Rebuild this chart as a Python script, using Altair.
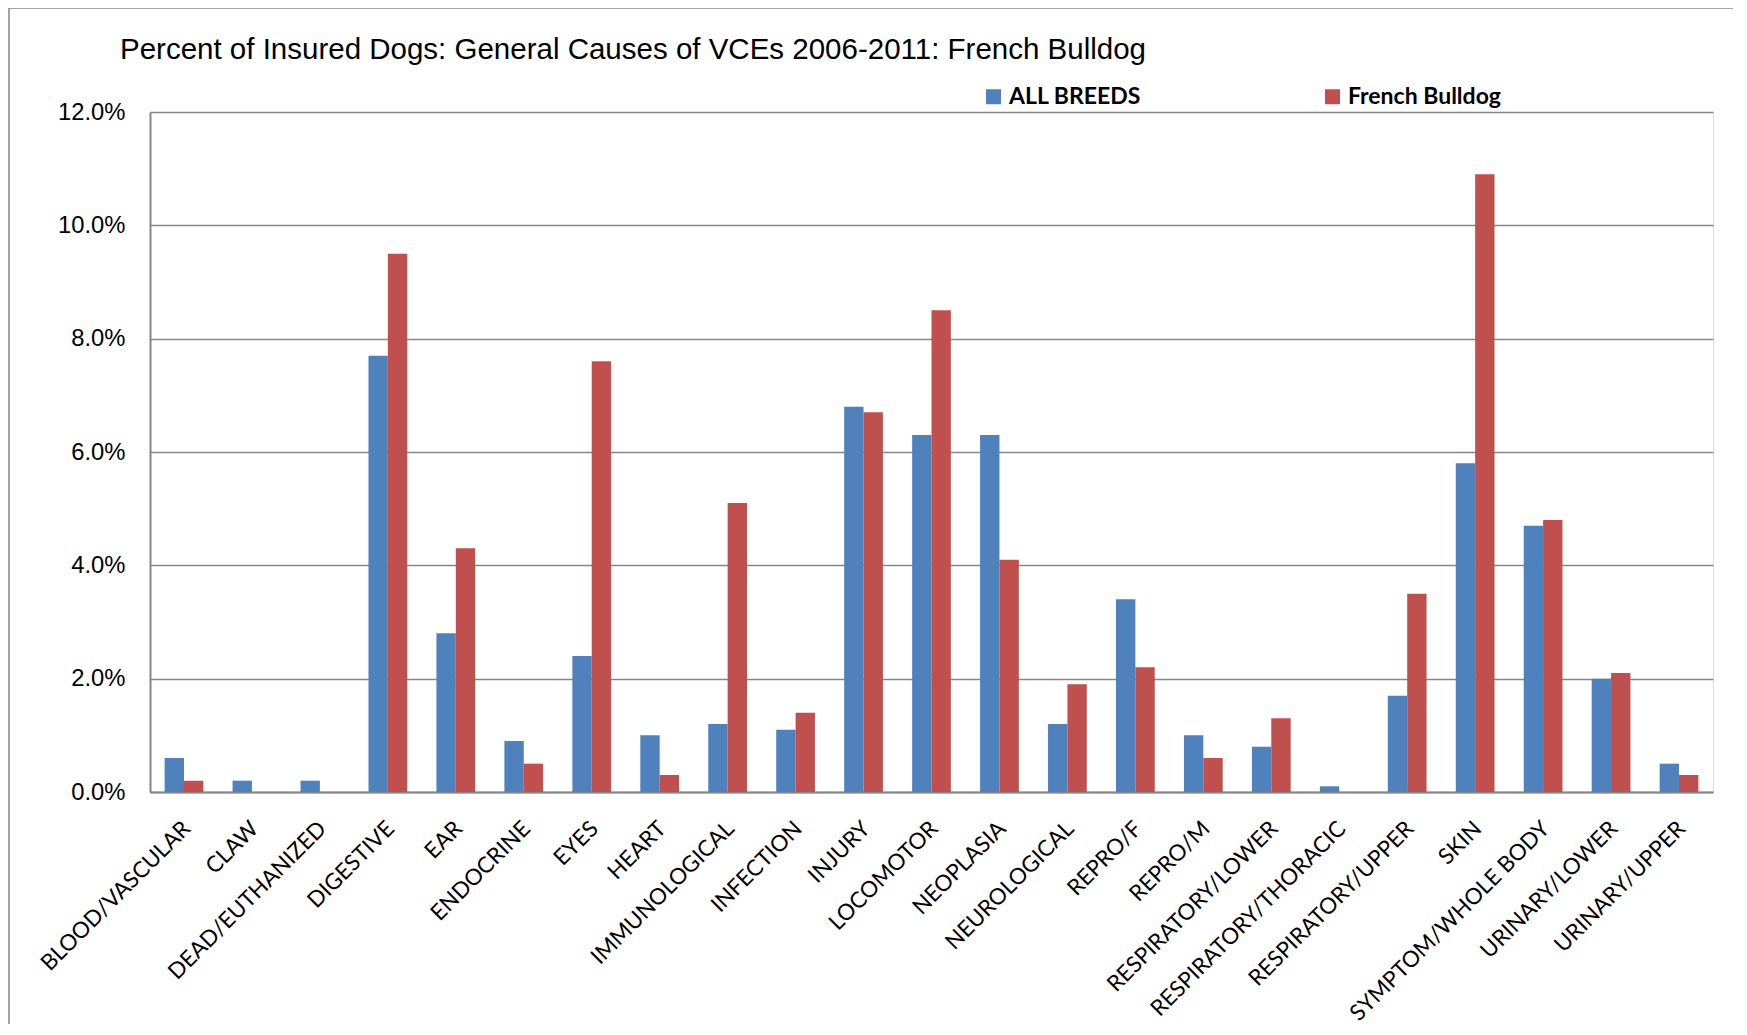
import altair as alt
import pandas as pd

categories = ["BLOOD/VASCULAR", "CLAW", "DEAD/EUTHANIZED", "DIGESTIVE", "EAR", "ENDOCRINE",
              "EYES", "HEART", "IMMUNOLOGICAL", "INFECTION", "INJURY", "LOCOMOTOR",
              "NEOPLASIA", "NEUROLOGICAL", "REPRO/F", "REPRO/M", "RESPIRATORY/LOWER",
              "RESPIRATORY/THORACIC", "RESPIRATORY/UPPER", "SKIN", "SYMPTOM/WHOLE BODY",
              "URINARY/LOWER", "URINARY/UPPER"]
all_breeds = [0.6, 0.2, 0.2, 7.7, 2.8, 0.9, 2.4, 1.0, 1.2, 1.1, 6.8, 6.3,
              6.3, 1.2, 3.4, 1.0, 0.8, 0.1, 1.7, 5.8, 4.7, 2.0, 0.5]
french_bulldog = [0.2, 0.0, 0.0, 9.5, 4.3, 0.5, 7.6, 0.3, 5.1, 1.4, 6.7, 8.5,
                  4.1, 1.9, 2.2, 0.6, 1.3, 0.0, 3.5, 10.9, 4.8, 2.1, 0.3]
series_names = ["ALL BREEDS", "French Bulldog"]
series_colors = ["#4F81BD", "#C0504D"]
y_ticks = [0, 2, 4, 6, 8, 10, 12]

rows = []
for c, a, f in zip(categories, all_breeds, french_bulldog):
    rows.append({"category": c, "series": series_names[0], "value": a})
    rows.append({"category": c, "series": series_names[1], "value": f})
df = pd.DataFrame(rows)

W, H = 1563, 680
GRAY = "#868686"

frame = alt.Chart(pd.DataFrame({"f": [0]})).mark_rect(
    fill="white", fillOpacity=0, stroke=GRAY, strokeWidth=1.5
).encode(
    x=alt.value(-141), x2=alt.value(W + 200),
    y=alt.value(-104), y2=alt.value(H + 400)
)

bars = alt.Chart(df).mark_bar().encode(
    x=alt.X("category:N", sort=categories,
            scale=alt.Scale(paddingInner=0.43, paddingOuter=0.215),
            axis=alt.Axis(title=None, labelAngle=315, labelAlign="right",
                          labelBaseline="top", labelFont="Lato",
                          labelFontSize=22.3, labelColor="black", labelLimit=400,
                          labelPadding=25, labelOffset=-5, ticks=False,
                          domainColor=GRAY, domainWidth=2)),
    xOffset=alt.XOffset("series:N", sort=series_names,
                        scale=alt.Scale(paddingInner=0, paddingOuter=0)),
    y=alt.Y("value:Q", scale=alt.Scale(domain=[0, 12], nice=False),
            axis=alt.Axis(title=None, values=y_ticks,
                          labelExpr="format(datum.value, '.1f') + '%'",
                          labelFont="Liberation Sans", labelFontSize=23.8,
                          labelColor="black", labelPadding=25, ticks=False,
                          domainColor=GRAY, domainWidth=2,
                          gridColor=GRAY, gridWidth=1.5, gridOpacity=1)),
    color=alt.Color("series:N", sort=series_names,
                    scale=alt.Scale(domain=series_names, range=series_colors),
                    legend=alt.Legend(title=None, orient="none", legendX=832,
                                      legendY=-27, direction="horizontal",
                                      columns=2, columnPadding=180,
                                      symbolType="square", symbolSize=225,
                                      symbolStrokeWidth=0, labelOffset=4,
                                      labelFont="Lato", labelFontSize=23,
                                      labelFontWeight="bold", labelColor="black"))
)

chart = alt.layer(frame, bars).properties(
    width=W, height=H,
    padding={"left": 142, "top": 104, "right": 20, "bottom": 232},
    autosize=alt.AutoSizeParams(type="none"),
    title=alt.TitleParams(
        "Percent of Insured Dogs: General Causes of VCEs 2006-2011: French Bulldog",
        anchor="start", frame="group", font="Liberation Sans", fontSize=29.5,
        fontWeight="normal", color="black", offset=-81, dx=-30,
        baseline="alphabetic")
).configure_view(stroke=None).configure(background="white")

chart.save("out.html", embed_options={"renderer": "svg", "actions": False})
